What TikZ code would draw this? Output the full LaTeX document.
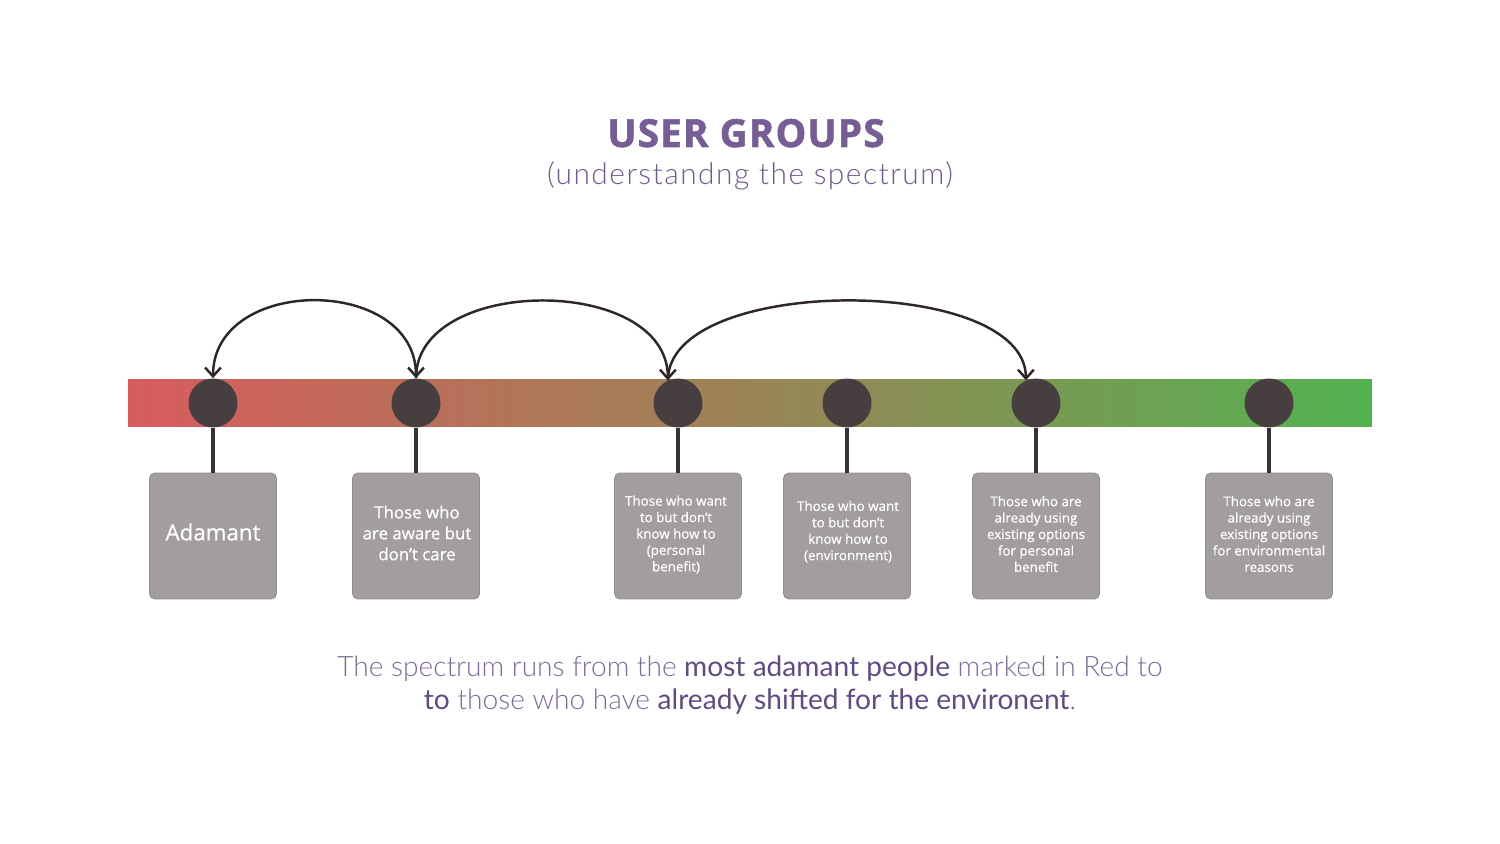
\documentclass[tikz,border=0pt]{standalone}
\usepackage{fontspec}
\setmainfont{Open Sans}
\newfontfamily\boxfont{Open Sans}[FakeBold=0.6]
\newfontfamily\titlefont{Open Sans Bold}[FakeBold=1.5, LetterSpace=3]
\newfontfamily\latolight{Lato Light}
\newfontfamily\sublight{Lato Light}[LetterSpace=5]
\newfontfamily\latoreg{Lato}
\usetikzlibrary{arrows.meta}
\definecolor{titlec}{HTML}{775D96}
\definecolor{subc}{HTML}{6F5A8E}
\definecolor{lightc}{HTML}{7D6B9C}
\definecolor{boldc}{HTML}{5F4B85}
\definecolor{dotc}{HTML}{473E40}
\definecolor{stemc}{HTML}{3A3133}
\definecolor{arcc}{HTML}{2E2628}
\definecolor{boxc}{HTML}{A29E9E}
\definecolor{boxe}{HTML}{928E8E}
\definecolor{barl}{HTML}{D85C5E}
\definecolor{barm}{HTML}{9A8456}
\definecolor{barr}{HTML}{53B250}
\begin{document}
\begin{tikzpicture}[x=0.02cm,y=-0.02cm,
  dot/.style={circle, fill=dotc, minimum size=0.98cm, inner sep=0pt},
  grp/.style={rectangle, rounded corners=3pt, fill=boxc, draw=boxe, line width=0.5pt,
    minimum width=2.54cm, minimum height=2.52cm, inner sep=0pt},
  grptext/.style={align=center, text=white, inner sep=0pt},
  small/.style={grptext, font=\boxfont\fontsize{7.6}{9.35}\selectfont},
  stem/.style={draw=stemc, line width=2pt},
  jump/.style={draw=arcc, line width=1.4pt},
  tipb/.tip={Straight Barb[length=5pt,width=9pt]}
]
\useasboundingbox (0,0) rectangle (1500,844);
\fill[white] (0,0) rectangle (1500,844);

\node[anchor=base, text=titlec, font=\titlefont\fontsize{22}{24}\selectfont] (title) at (746,147) {USER GROUPS};
\node[anchor=base, text=subc, font=\sublight\fontsize{17}{20}\selectfont] (sub) at (750,185) {(understandng the spectrum)};

\node[inner sep=0pt, minimum width=24.88cm, minimum height=0.96cm,
  left color=barl, right color=barr, middle color=barm] (bar) at (750,403) {};

\node[dot] (c1) at (213,403) {};
\node[dot] (c2) at (416,403) {};
\node[dot] (c3) at (678,403) {};
\node[dot] (c4) at (847,403) {};
\node[dot] (c5) at (1036,403) {};
\node[dot] (c6) at (1269,403) {};

\node[grp] (b1) at (213,536) {};
\node[grp] (b2) at (416,536) {};
\node[grp] (b3) at (678,536) {};
\node[grp] (b4) at (847,536) {};
\node[grp] (b5) at (1036,536) {};
\node[grp] (b6) at (1269,536) {};

\node[grptext, font=\boxfont\fontsize{12.7}{15}\selectfont] (t1) at (213,532) {Adamant};
\node[grptext, font=\boxfont\fontsize{9.6}{11.9}\selectfont] (t2) at (417,533) {Those who\\are aware but\\don’t care};
\node[small] (t3) at (676,534.5) {Those who want\\to but don’t\\know how to\\(personal\\benefit)};
\node[small] (t4) at (848,531.5) {Those who want\\to but don’t\\know how to\\(environment)};
\node[small] (t5) at (1036,534) {Those who are\\already using\\existing options\\for personal\\benefit};
\node[small] (t6) at (1269,534) {Those who are\\already using\\existing options\\for environmental\\reasons};

\foreach \i in {1,...,6} \draw[stem] (c\i.south) -- (b\i.north);

\draw[jump, tipb-tipb] (c2.north) .. controls +(0,-103) and +(0,-103) .. (c1.north);
\draw[jump, -tipb] (c2.north) .. controls +(0,-103) and +(0,-106) .. (c3.114);
\draw[jump, -tipb] (c3.114) .. controls +(0,-106) and +(0,-106) .. (c5.114);

\node[anchor=base, text=lightc, font=\latolight\fontsize{16}{19}\selectfont] (l1) at (750,676)
  {The spectrum runs from the {\latoreg\color{boldc}most adamant people} marked in Red to};
\node[anchor=base, text=lightc, font=\latolight\fontsize{16}{19}\selectfont] (l2) at (750,709)
  {{\latoreg\color{boldc}to} those who have {\latoreg\color{boldc}already shifted for the environent}.};
\end{tikzpicture}
\end{document}
